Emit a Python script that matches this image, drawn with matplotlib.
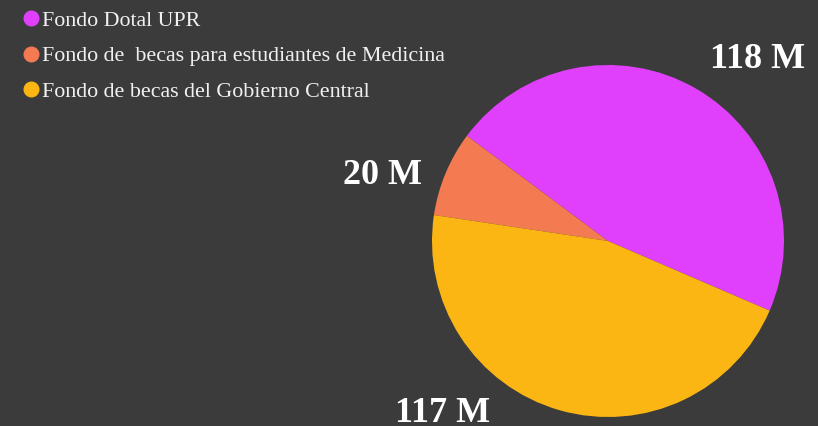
import matplotlib
matplotlib.use("Agg")
import matplotlib.pyplot as plt
from matplotlib.lines import Line2D

labels = ["Fondo Dotal UPR",
          "Fondo de  becas para estudiantes de Medicina",
          "Fondo de becas del Gobierno Central"]
values = [118, 20, 117]
value_labels = ["118 M", "20 M", "117 M"]
colors = ["#E040FB", "#F47A52", "#FBB614"]

BG = "#3b3b3b"
W, H = 818, 426
fig = plt.figure(figsize=(W / 100, H / 100), dpi=100, facecolor=BG)

# pie centre (608, 241) px, radius 176 px
cx, cy, r = 608, 241, 176
ax = fig.add_axes([(cx - r) / W, (H - cy - r) / H, 2 * r / W, 2 * r / H])
ax.set_facecolor(BG)
ax.pie(values, colors=colors, startangle=-23.3, counterclock=True,
       radius=1.0, wedgeprops={"linewidth": 0})
ax.set_xlim(-1, 1)
ax.set_ylim(-1, 1)
ax.set_aspect("equal")
ax.axis("off")

# value labels, positions in radius units
label_pos = [(0.85, 1.03), (-1.28, 0.37), (-0.94, -0.98)]
for (x, y), txt in zip(label_pos, value_labels):
    ax.text(x, y, txt, ha="center", va="center", color="white",
            fontsize=26, fontweight="bold", family="Liberation Serif",
            clip_on=False)

handles = [Line2D([], [], marker="o", linestyle="", markersize=10.5,
                  markerfacecolor=c, markeredgecolor=c) for c in colors]
leg = fig.legend(handles, labels, loc="upper left",
                 bbox_to_anchor=(11 / W, 1 - 2 / H), frameon=False,
                 prop={"family": "Liberation Serif", "size": 15.8},
                 handletextpad=0.0, handlelength=1.0, labelspacing=0.68,
                 borderaxespad=0)
for t in leg.get_texts():
    t.set_color("#f0f0f0")

fig.savefig("out.png", dpi=100, facecolor=BG)
